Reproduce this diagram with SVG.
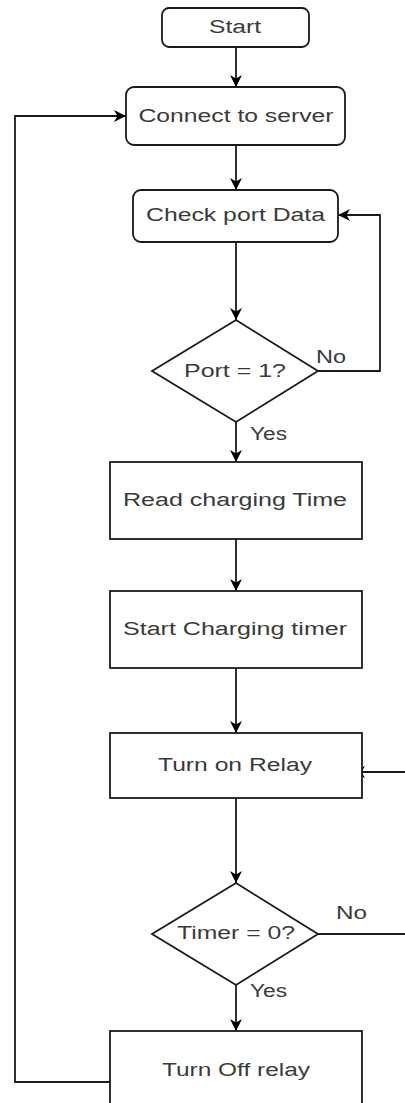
<svg xmlns="http://www.w3.org/2000/svg" width="405" height="1103" viewBox="0 0 405 1103">
  <style>
    .box { fill: #ffffff; stroke: #1a1a1a; stroke-width: 1.8; }
    .link { fill: none; stroke: #1a1a1a; stroke-width: 1.8; }
    .label { font-family: "Liberation Sans", Arial, sans-serif; font-size: 18px; fill: #3a3a3a; text-anchor: middle; }
    .tag { font-family: "Liberation Sans", Arial, sans-serif; font-size: 18px; fill: #3a3a3a; }
  </style>
  <defs>
    <!-- filled arrowhead with a shallow notch at the back -->
    <marker id="arrow" markerUnits="userSpaceOnUse" markerWidth="14" markerHeight="14" viewBox="0 0 14 14" refX="12" refY="7" orient="auto">
      <path d="M0,1 L12,7 L0,13 L3.5,7 Z" fill="#000000"/>
    </marker>
  </defs>
  <rect width="405" height="1103" fill="#ffffff"/>

  <!-- connectors -->
  <g id="connectors">
    <path class="link" d="M236,47 V87" marker-end="url(#arrow)"/>
    <path class="link" d="M236,145 V190" marker-end="url(#arrow)"/>
    <path class="link" d="M236,242 V320" marker-end="url(#arrow)"/>
    <path class="link" d="M318,371 H380 V215 H338" marker-end="url(#arrow)"/>
    <path class="link" d="M236,422 V462" marker-end="url(#arrow)"/>
    <path class="link" d="M236,539 V591" marker-end="url(#arrow)"/>
    <path class="link" d="M236,668 V733" marker-end="url(#arrow)"/>
    <path class="link" d="M236,798 V883" marker-end="url(#arrow)"/>
    <path class="link" d="M318,934 H408 V772 H353" marker-end="url(#arrow)"/>
    <path class="link" d="M236,985 V1031" marker-end="url(#arrow)"/>
    <path class="link" d="M110,1082 H15 V116 H126" marker-end="url(#arrow)"/>
    <text class="tag" x="316" y="363" textLength="30" lengthAdjust="spacingAndGlyphs">No</text>
    <text class="tag" x="250" y="440" textLength="37" lengthAdjust="spacingAndGlyphs">Yes</text>
    <text class="tag" x="336" y="919" textLength="31" lengthAdjust="spacingAndGlyphs">No</text>
    <text class="tag" x="250" y="997" textLength="37" lengthAdjust="spacingAndGlyphs">Yes</text>
  </g>

  <g id="start">
    <rect class="box" x="162" y="8" width="147" height="39" rx="7"/>
    <text class="label" x="235" y="33" textLength="52" lengthAdjust="spacingAndGlyphs">Start</text>
  </g>
  <g id="connect">
    <rect class="box" x="126" y="87" width="219" height="58" rx="8"/>
    <text class="label" x="236" y="122" textLength="195" lengthAdjust="spacingAndGlyphs">Connect to server</text>
  </g>
  <g id="check-port">
    <rect class="box" x="133" y="190" width="205" height="52" rx="8"/>
    <text class="label" x="235.5" y="221" textLength="179" lengthAdjust="spacingAndGlyphs">Check port Data</text>
  </g>
  <g id="port-decision">
    <polygon class="box" points="236,320 318,371 236,422 152,371"/>
    <text class="label" x="235" y="377" textLength="102" lengthAdjust="spacingAndGlyphs">Port = 1?</text>
  </g>
  <g id="read-time">
    <rect class="box" x="110" y="462" width="252" height="77"/>
    <text class="label" x="235" y="506" textLength="224" lengthAdjust="spacingAndGlyphs">Read charging Time</text>
  </g>
  <g id="start-timer">
    <rect class="box" x="110" y="591" width="252" height="77"/>
    <text class="label" x="235" y="635" textLength="224" lengthAdjust="spacingAndGlyphs">Start Charging timer</text>
  </g>
  <g id="relay-on">
    <rect class="box" x="110" y="733" width="252" height="65"/>
    <text class="label" x="235" y="771" textLength="154" lengthAdjust="spacingAndGlyphs">Turn on Relay</text>
  </g>
  <g id="timer-decision">
    <polygon class="box" points="236,883 318,934 236,985 152,934"/>
    <text class="label" x="236" y="939" textLength="118" lengthAdjust="spacingAndGlyphs">Timer = 0?</text>
  </g>
  <g id="relay-off">
    <rect class="box" x="110" y="1031" width="252" height="80"/>
    <text class="label" x="236" y="1076" textLength="148" lengthAdjust="spacingAndGlyphs">Turn Off relay</text>
  </g>
</svg>
